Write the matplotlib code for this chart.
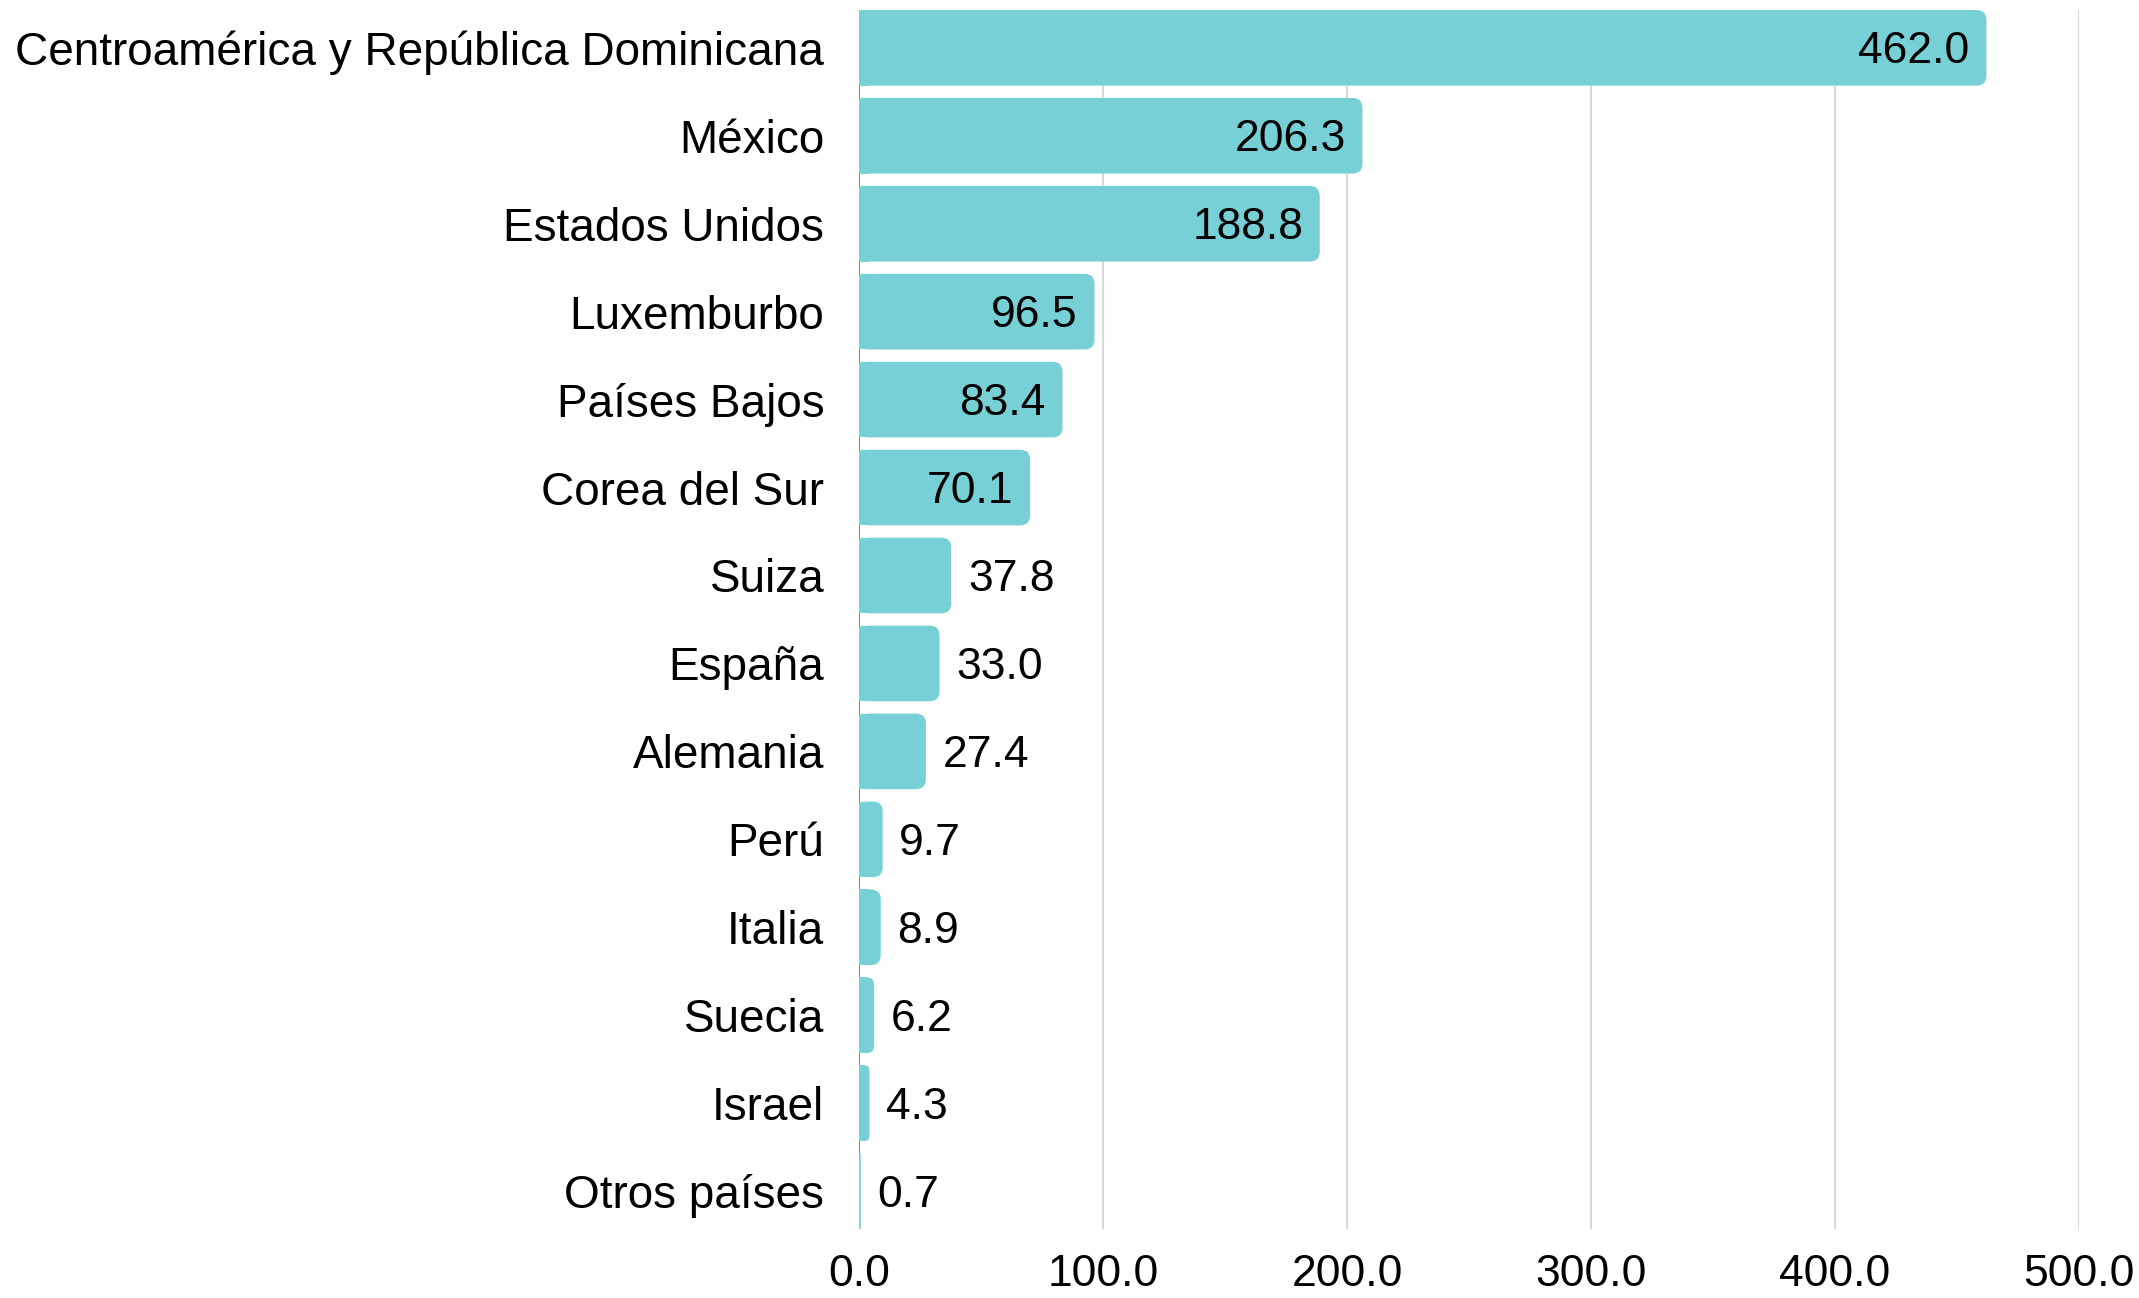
import matplotlib
matplotlib.use("Agg")
import matplotlib.pyplot as plt
from matplotlib.patches import FancyBboxPatch, Rectangle
from matplotlib.transforms import ScaledTranslation

# data
paises = ["Centroamérica y República Dominicana", "México", "Estados Unidos",
          "Luxemburbo", "Países Bajos", "Corea del Sur", "Suiza", "España",
          "Alemania", "Perú", "Italia", "Suecia", "Israel", "Otros países"]
valores = [462.0, 206.3, 188.8, 96.5, 83.4, 70.1, 37.8, 33.0, 27.4, 9.7, 8.9, 6.2, 4.3, 0.7]
xticks = [0, 100, 200, 300, 400, 500]

color = "#77D0D5"
fnt = "Liberation Sans"
plt.rcParams["font.family"] = [fnt, "DejaVu Sans"]

fig = plt.figure(figsize=(21.39, 12.98), dpi=100)
ax = fig.add_axes([0.4016, 0.0532, 0.972 - 0.4016, 0.9923 - 0.0532])

h = 0.86
ypos = list(range(len(paises)))
bars = ax.barh(ypos, valores, height=h, color="none")
ax.set_xlim(0, 500)
ax.set_ylim(len(paises) - 1 + h / 2, -h / 2)

# rounded right end: radius in pixels converted to data units
fig.canvas.draw()
bb = ax.get_window_extent()
px_x = 500 / bb.width
px_y = (len(paises) - 1 + h) / bb.height
r_px = 10
for b in bars:
    x0, y0, w, hh = b.get_x(), b.get_y(), b.get_width(), b.get_height()
    rx = min(r_px * px_x, w / 2)
    p = FancyBboxPatch((x0, y0), w, hh,
                       boxstyle="round,pad=0,rounding_size=%f" % rx,
                       mutation_aspect=px_y / px_x,
                       fc=color, ec="none", zorder=3)
    ax.add_patch(p)
    ax.add_patch(Rectangle((x0, y0), min(w, rx + 1e-9), hh, fc=color, ec="none", zorder=3))

for y, v in zip(ypos, valores):
    txt = "%.1f" % v
    if v > 60:
        ax.annotate(txt, (v, y), xytext=(-12, -3), textcoords="offset points",
                    ha="right", va="center", fontsize=32, zorder=4)
    else:
        ax.annotate(txt, (v, y), xytext=(12, -3), textcoords="offset points",
                    ha="left", va="center", fontsize=32, zorder=4)

ax.set_yticks(ypos)
ax.set_yticklabels(paises, fontsize=33)
off = ScaledTranslation(0, 1.5 / 72, fig.dpi_scale_trans)
for lab in ax.get_yticklabels():
    lab.set_transform(lab.get_transform() + off)
ax.set_xticks(xticks)
ax.set_xticklabels(["%.1f" % t for t in xticks], fontsize=32)
ax.tick_params(axis="y", length=0, pad=25)
ax.tick_params(axis="x", length=0, pad=18)
for s in ax.spines.values():
    s.set_visible(False)
ax.grid(axis="x", color="#d9d9d9", linewidth=1.5, zorder=0)
ax.set_axisbelow(True)
ax.axvline(0, color="#888888", linewidth=1.5, zorder=1)

fig.savefig("out.png", dpi=100)
